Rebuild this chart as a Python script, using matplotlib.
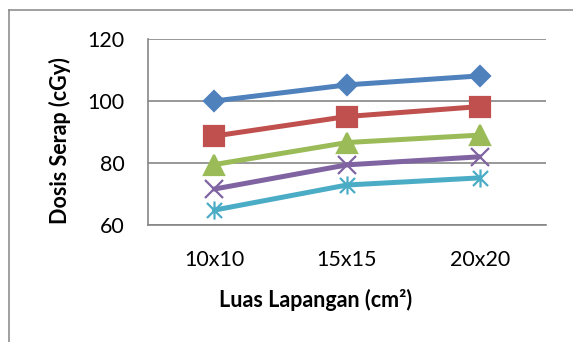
import numpy as np
import matplotlib
matplotlib.use('Agg')
import matplotlib.pyplot as plt
from matplotlib.path import Path
from matplotlib.lines import Line2D

plt.rcParams['font.family'] = ['Lato', 'DejaVu Sans']

# data
categories = ['10x10', '15x15', '20x20']
series_1 = [100.0, 105.2, 108.1]
series_2 = [88.7, 95.0, 98.2]
series_3 = [79.5, 86.6, 89.0]
series_4 = [71.6, 79.4, 82.0]
series_5 = [64.8, 72.9, 75.2]
y_ticks = [60, 80, 100, 120]

# excel style "star" marker: x with a vertical bar
star = Path([(-1, -1), (1, 1), (-1, 1), (1, -1), (0, -1.2), (0, 1.2)],
            [Path.MOVETO, Path.LINETO, Path.MOVETO, Path.LINETO, Path.MOVETO, Path.LINETO])

styles = [
    (series_1, '#4F81BD', 'D', 10.5),
    (series_2, '#C0504D', 's', 14),
    (series_3, '#9BBB59', '^', 14),
    (series_4, '#8064A2', 'x', 13),
    (series_5, '#4BACC6', star, 13),
]

W, H = 573, 342
fig = plt.figure(figsize=(W / 100, H / 100), dpi=100)
ax = fig.add_axes([148 / W, 1 - 225 / H, (546 - 148) / W, (225 - 39) / H])

x = np.arange(len(categories))
for vals, col, mk, ms in styles:
    ax.plot(x, vals, color=col, lw=3.6, marker=mk, markersize=ms,
            markerfacecolor=col, markeredgecolor=col, markeredgewidth=1.6,
            solid_capstyle='round', zorder=3)

ax.set_xlim(-0.5, len(categories) - 0.5)
ax.set_ylim(60, 120)
ax.set_xticks(x)
ax.set_xticklabels(categories)
ax.set_yticks(y_ticks)
ax.tick_params(length=0, labelsize=15.5, colors='#000000')
ax.tick_params(axis='y', pad=17)
ax.tick_params(axis='x', pad=18)
ax.yaxis.grid(True, color='#868686', lw=1.2)
ax.set_axisbelow(True)
for side in ['top', 'right']:
    ax.spines[side].set_visible(False)
for side in ['left', 'bottom']:
    ax.spines[side].set_color('#868686')
    ax.spines[side].set_linewidth(1.2)

fig.text(316 / W, 1 - 300 / H, 'Luas Lapangan (cm²)', ha='center', va='center',
         fontsize=15.5, fontweight='bold')
fig.text(60 / W, 1 - 141 / H, 'Dosis Serap (cGy)', ha='center', va='center',
         rotation=90, fontsize=15.5, fontweight='bold')

# chart area border (left and top edges visible)
fig.add_artist(Line2D([8.5 / W, 8.5 / W], [0, 1 - 9.5 / H], color='#868686', lw=1.1))
fig.add_artist(Line2D([8.5 / W, 1], [1 - 9.5 / H, 1 - 9.5 / H], color='#868686', lw=1.1))

fig.savefig('out.png', dpi=100)
